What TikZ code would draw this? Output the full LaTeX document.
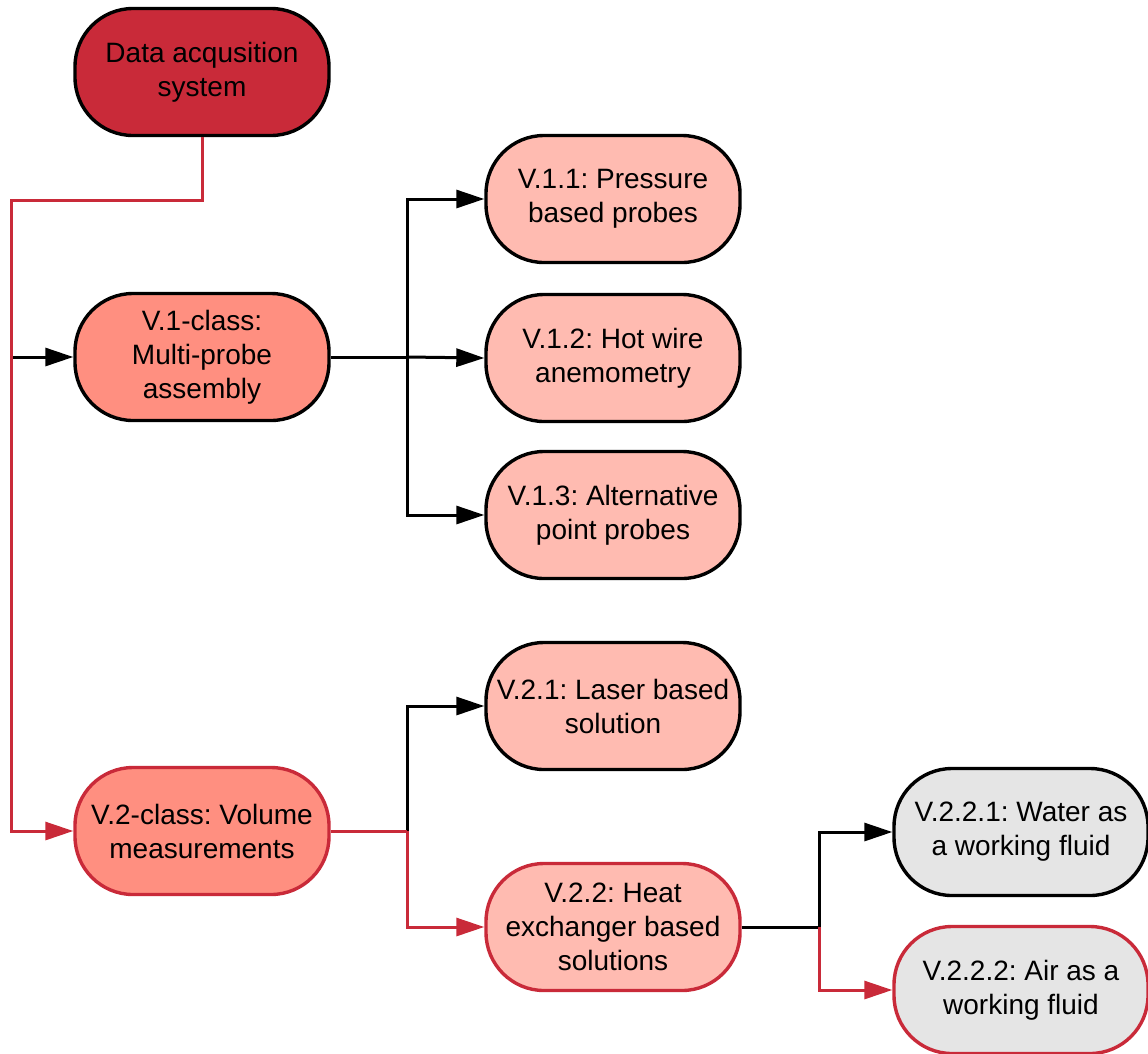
\documentclass[tikz,border=0pt]{standalone}
\usepackage{fontspec}
\setmainfont{Liberation Sans}
\usetikzlibrary{arrows.meta}

\definecolor{darkred}{HTML}{C92A39}
\definecolor{salmon}{HTML}{FF8F80}
\definecolor{lightsalmon}{HTML}{FFBBB1}
\definecolor{lightgray}{HTML}{E5E5E5}

\tikzset{
  term/.style={draw=black, line width=3.4pt, rectangle, rounded corners=58pt,
    minimum width=254pt, minimum height=127pt, inner sep=0pt,
    align=center, font=\fontsize{28}{34}\selectfont},
  redborder/.style={draw=darkred},
  conn/.style={line width=3pt, black},
  redconn/.style={line width=3pt, darkred},
  tip/.style={-{Triangle[length=28pt,width=18pt]}}
}

\begin{document}
\frenchspacing
\begin{tikzpicture}[x=1pt, y=-1pt]
  \useasboundingbox (0,0) rectangle (1148,1053);

  % nodes
  \node[term, fill=darkred] (das) at (202,72) {Data acqusition\\system};
  \node[term, fill=salmon] (v1) at (202,357) {V.1-class:\\Multi-probe\\assembly};
  \node[term, fill=salmon, redborder] (v2) at (202,831) {V.2-class: Volume\\measurements};

  \node[term, fill=lightsalmon] (v11) at (613,199) {V.1.1: Pressure\\based probes};
  \node[term, fill=lightsalmon] (v12) at (613,358) {V.1.2: Hot wire\\anemometry};
  \node[term, fill=lightsalmon] (v13) at (613,515) {V.1.3: Alternative\\point probes};

  \node[term, fill=lightsalmon] (v21) at (613,706) {V.2.1: Laser based\\solution};
  \node[term, fill=lightsalmon, redborder] (v22) at (613,927) {V.2.2: Heat\\exchanger based\\solutions};

  \node[term, fill=lightgray] (v221) at (1021,832) {V.2.2.1: Water as\\a working fluid};
  \node[term, fill=lightgray, redborder] (v222) at (1021,990) {V.2.2.2: Air as a\\working fluid};

  % junction points
  \coordinate (trunk) at (11,200);
  \coordinate (j1) at (407,357);
  \coordinate (j2) at (407,831);
  \coordinate (j3) at (819,927);

  % V.1 branch
  \draw[conn, tip] (trunk |- v1.west) -- (v1.west);
  \draw[conn] (v1.east) -- (j1);
  \draw[conn, tip] (j1) |- (v11.west);
  \draw[conn, tip] (j1) |- (v13.west);
  \draw[conn, tip] (j1) -- (v12.west);

  % V.2 branch
  \draw[conn, tip] (j2) |- (v21.west);
  \draw[redconn] (v2.east) -- (j2);
  \draw[redconn, tip] (j2) |- (v22.west);

  % V.2.2 branch
  \draw[conn, tip] (j3) |- (v221.west);
  \draw[conn] (v22.east) -- (j3);
  \draw[redconn, tip] (j3) |- (v222.west);

  % trunk from the acquisition system
  \draw[redconn, tip] (das.south) |- (trunk) |- (v2.west);
\end{tikzpicture}
\end{document}
